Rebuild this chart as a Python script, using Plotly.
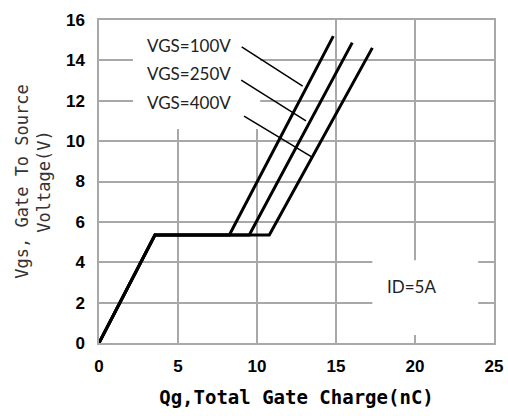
import plotly.graph_objects as go

# Data
series_names = ["VGS=100V", "VGS=250V", "VGS=400V"]
qg_rise = [0, 3.54]
vgs_rise = [0, 5.35]
plateau_v = 5.35
plateau_end_qg = [8.25, 9.51, 10.78]
top_qg = [14.83, 16.03, 17.3]
top_vgs = [15.2, 14.88, 14.62]

# label positions and leader lines
label_x = [5.7, 5.7, 5.7]
label_y = [14.75, 13.37, 11.93]
leader_x0 = [9.03, 9.0, 9.18]
leader_y0 = [14.67, 13.02, 11.24]
leader_x1 = [12.89, 13.1, 13.46]
leader_y1 = [12.72, 11.0, 9.22]

x_ticks = [0, 5, 10, 15, 20, 25]
y_ticks = [0, 2, 4, 6, 8, 10, 12, 14, 16]

fig = go.Figure()

for i, name in enumerate(series_names):
    fig.add_trace(go.Scatter(
        x=qg_rise + [plateau_end_qg[i], top_qg[i]],
        y=vgs_rise + [plateau_v, top_vgs[i]],
        mode="lines", line=dict(color="black", width=3),
        name=name, showlegend=False, hoverinfo="skip"))
    fig.add_trace(go.Scatter(
        x=[leader_x0[i], leader_x1[i]], y=[leader_y0[i], leader_y1[i]],
        mode="lines", line=dict(color="black", width=1.5),
        showlegend=False, hoverinfo="skip"))
    fig.add_annotation(x=label_x[i], y=label_y[i], text=name, showarrow=False,
                       font=dict(family="Lato", size=17, color="#222"))

fig.add_annotation(x=19.8, y=2.82, text="ID=5A", showarrow=False,
                   font=dict(family="Lato", size=17, color="#222"))

# white boxes behind labels (cover grid)
fig.add_shape(type="rect", x0=2.15, x1=10.2, y0=10.6, y1=16, layer="between",
              fillcolor="white", line=dict(width=0))
fig.add_shape(type="rect", x0=17.3, x1=24.0, y0=0.4, y1=4.1, layer="between",
              fillcolor="white", line=dict(width=0))

axis_common = dict(showgrid=True, gridcolor="#a8a8a8", gridwidth=1.5,
                   showline=True, linecolor="#a8a8a8", linewidth=1.5, mirror=True,
                   zeroline=False, ticks="", automargin=False,
                   tickfont=dict(family="Liberation Sans", size=17, color="black", weight="bold"))

fig.update_xaxes(range=[0, 25], tickvals=x_ticks, ticktext=[str(v) for v in x_ticks],
                 ticklabelstandoff=7,
                 title=dict(text="Qg,Total Gate Charge(nC)", standoff=16,
                            font=dict(family="DejaVu Sans Mono", size=19, color="black", weight="bold")),
                 **axis_common)
fig.update_yaxes(range=[0, 16], tickvals=y_ticks, ticktext=[str(v) for v in y_ticks],
                 ticklabelstandoff=9,
                 title=dict(text="Vgs, Gate To Source<br>Voltage(V)", standoff=11,
                            font=dict(family="DejaVu Sans Mono", size=17, color="#333")),
                 **axis_common)

fig.update_layout(width=508, height=416, margin=dict(l=99, r=14, t=20, b=73),
                  plot_bgcolor="white", paper_bgcolor="white")

fig.write_html("out.html", config={"displayModeBar": False},
               post_script="document.body.style.margin='0';document.body.style.overflow='hidden';")
